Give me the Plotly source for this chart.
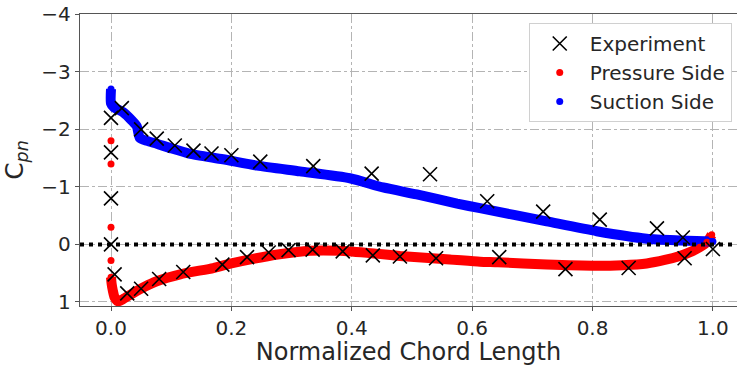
import plotly.graph_objects as go

# ---------------- data ----------------
exp_x = [0.0, 0.0, 0.0, 0.0, 0.006,
         0.018, 0.05, 0.076, 0.106, 0.137, 0.167, 0.2, 0.248, 0.336, 0.433, 0.53,
         0.625, 0.718, 0.812, 0.907, 0.95,
         0.027, 0.05, 0.08, 0.12, 0.185, 0.226, 0.262, 0.295, 0.335, 0.385, 0.435,
         0.48, 0.54, 0.645, 0.755, 0.86, 0.953, 1.0]
exp_y = [-2.2, -1.6, -0.8, 0.0, 0.52,
         -2.37, -2.0, -1.84, -1.72, -1.63, -1.58, -1.55, -1.44, -1.36, -1.23, -1.22,
         -0.75, -0.57, -0.43, -0.28, -0.12,
         0.85, 0.77, 0.6, 0.48, 0.35, 0.22, 0.14, 0.1, 0.09, 0.12, 0.19,
         0.21, 0.24, 0.22, 0.43, 0.41, 0.24, 0.08]

pres_x = [0.0, 0.0, 0.0, 0.0, 0.0, 0.001, 0.003, 0.006, 0.012, 0.02, 0.036, 0.055,
          0.076, 0.115, 0.17, 0.2, 0.236, 0.28, 0.33, 0.38, 0.44, 0.48, 0.563,
          0.613, 0.643, 0.724, 0.807, 0.85, 0.89, 0.92, 0.945, 0.965, 0.978,
          0.99, 0.998]
pres_y = [-1.8, -1.4, -0.3, 0.28, 0.57, 0.68, 0.8, 0.92, 0.99, 0.95, 0.85, 0.74,
          0.64, 0.52, 0.41, 0.33, 0.25, 0.17, 0.11, 0.11, 0.16, 0.2, 0.26,
          0.3, 0.31, 0.35, 0.37, 0.36, 0.33, 0.27, 0.2, 0.12, 0.05,
          -0.04, -0.17]
pres_dense_start = 4  # first index of the continuous part of the pressure curve

suc_x = [0.0, 0.0, 0.005, 0.02, 0.035, 0.043, 0.048, 0.06, 0.076, 0.1, 0.13,
         0.186, 0.243, 0.314, 0.397, 0.452, 0.508, 0.575, 0.613, 0.724, 0.807,
         0.89, 0.945, 1.0]
suc_y = [-2.7, -2.45, -2.38, -2.3, -2.15, -2.05, -1.85, -1.8, -1.75, -1.67, -1.58,
         -1.48, -1.37, -1.27, -1.15, -0.99, -0.87, -0.71, -0.63, -0.40, -0.23,
         -0.1, -0.07, -0.05]

x_ticks = [0.0, 0.2, 0.4, 0.6, 0.8, 1.0]
x_tick_labels = ["0.0", "0.2", "0.4", "0.6", "0.8", "1.0"]
y_ticks = [-4, -3, -2, -1, 0, 1]
zero_level = 0

# ---------------- styling ----------------
FONT = "DejaVu Sans"
TXT = "#262626"
RED = "#ff0000"
BLUE = "#0000ff"

fig = go.Figure()

# continuous CFD curves (thick bands made of dense markers in the original)
fig.add_trace(go.Scatter(
    x=pres_x[pres_dense_start:], y=pres_y[pres_dense_start:], mode="lines",
    line=dict(color=RED, width=10, shape="spline", smoothing=0.6),
    showlegend=False, hoverinfo="skip"))
fig.add_trace(go.Scatter(
    x=suc_x, y=suc_y, mode="lines",
    line=dict(color=BLUE, width=10, shape="spline", smoothing=0.6),
    showlegend=False, hoverinfo="skip"))

fig.add_trace(go.Scatter(
    x=pres_x, y=pres_y, mode="markers", name="Pressure Side",
    marker=dict(color=RED, size=7), legendrank=2))
fig.add_trace(go.Scatter(
    x=suc_x, y=suc_y, mode="markers", name="Suction Side",
    marker=dict(color=BLUE, size=7), legendrank=3))

fig.add_trace(go.Scatter(
    x=exp_x, y=exp_y, mode="markers", name="Experiment",
    marker=dict(symbol="x-thin", size=14, color="black",
                line=dict(color="black", width=1.6)),
    legendrank=1))

fig.add_shape(type="line", xref="paper", x0=0, x1=1, yref="y",
              y0=zero_level, y1=zero_level, layer="above",
              line=dict(color="black", width=4, dash="4px,5px"))

axis_common = dict(
    showgrid=True, gridcolor="#b4b4b4", gridwidth=1, griddash="dashdot",
    zeroline=False, showline=True, linecolor="#555555", linewidth=1.3,
    ticks="outside", ticklen=4, tickcolor="#555555",
    tickfont=dict(family=FONT, size=20, color=TXT),
)

fig.update_xaxes(
    **axis_common, mirror=True,
    range=[-0.0515, 1.04], tickvals=x_ticks, ticktext=x_tick_labels,
    title=dict(text="Normalized Chord Length",
               font=dict(family=FONT, size=24, color=TXT), standoff=9),
)
fig.update_yaxes(
    **axis_common, mirror=False,
    range=[1.07, -4.005], tickvals=y_ticks,
    title=dict(text="C<sub><i>pn</i></sub>",
               font=dict(family=FONT, size=25, color=TXT), standoff=10),
)

fig.update_layout(
    width=737, height=366,
    margin=dict(l=80, r=0, t=14, b=58),
    paper_bgcolor="white", plot_bgcolor="white",
    font=dict(family=FONT, color=TXT),
    legend=dict(
        x=0.992, y=0.969, xanchor="right", yanchor="top",
        bgcolor="white", bordercolor="#d0d0d0", borderwidth=1,
        font=dict(family=FONT, size=20, color=TXT),
        itemsizing="trace", itemwidth=50, tracegroupgap=0,
    ),
)

fig.write_html("out.html")
